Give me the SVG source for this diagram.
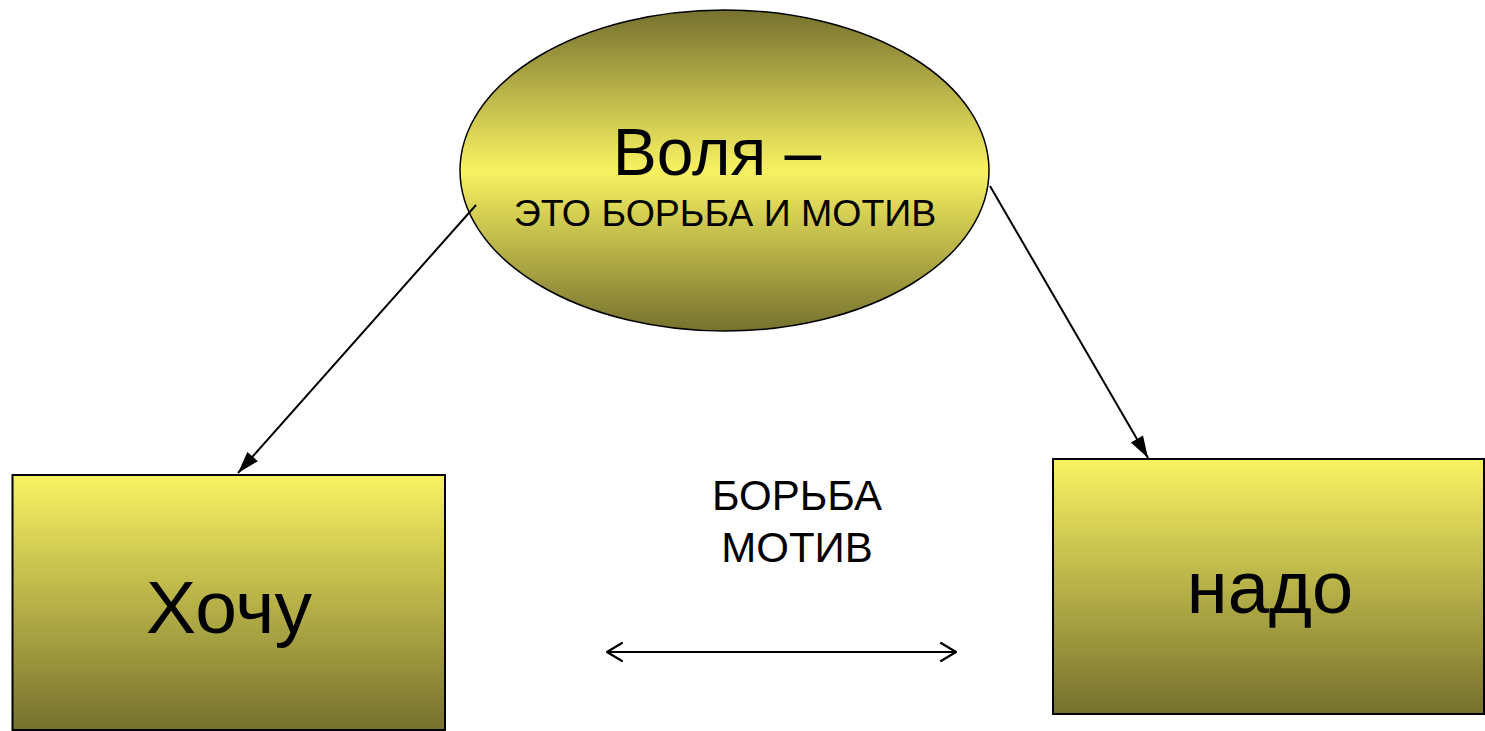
<svg xmlns="http://www.w3.org/2000/svg" width="1485" height="731" viewBox="0 0 1485 731">
<defs>
<linearGradient id="gEll" x1="0" y1="0" x2="0" y2="1">
<stop offset="0" stop-color="#76712e"/>
<stop offset="0.5" stop-color="#f8f262"/>
<stop offset="1" stop-color="#76712e"/>
</linearGradient>
<linearGradient id="gRect" x1="0" y1="0" x2="0" y2="1">
<stop offset="0" stop-color="#f8f262"/>
<stop offset="1" stop-color="#76712e"/>
</linearGradient>
<marker id="fill" viewBox="0 0 10 10" refX="10" refY="5" markerWidth="10" markerHeight="10" markerUnits="userSpaceOnUse" orient="auto" overflow="visible">
<path d="M-12,-2 L10,5 L-12,12 Z" fill="#000"/>
</marker>
<marker id="open" viewBox="0 0 20 20" refX="18" refY="10" markerWidth="20" markerHeight="20" markerUnits="userSpaceOnUse" orient="auto-start-reverse">
<path d="M3,1 L18,10 L3,19" fill="none" stroke="#000" stroke-width="2.2" stroke-linecap="round" stroke-linejoin="round"/>
</marker>
<style>
text{font-family:"Liberation Sans",Arial,sans-serif;fill:#000;text-anchor:middle}
.node{stroke:#000;stroke-width:2}
</style>
</defs>
<rect width="1485" height="731" fill="#fff"/>
<g id="volya">
<ellipse cx="724.5" cy="170.5" rx="264.5" ry="160.5" fill="url(#gEll)" stroke="#000" stroke-width="1.5"/>
<text x="717" y="175" font-size="66">Воля –</text>
<text x="725" y="226" font-size="37.5">ЭТО БОРЬБА И МОТИВ</text>
</g>
<g id="hochu">
<rect class="node" x="12.5" y="475" width="432.5" height="255" fill="url(#gRect)"/>
<text x="229" y="633" font-size="75">Хочу</text>
</g>
<g id="nado">
<rect class="node" x="1053" y="459" width="431" height="255" fill="url(#gRect)"/>
<text x="1270" y="613" font-size="74">надо</text>
</g>
<g id="label">
<text x="797" y="510" font-size="42">БОРЬБА</text>
<text x="797" y="562" font-size="42">МОТИВ</text>
</g>
<g id="connectors" stroke="#000" stroke-width="2" fill="none">
<line x1="476" y1="205" x2="238" y2="473" marker-end="url(#fill)"/>
<line x1="990" y1="186" x2="1148" y2="458" marker-end="url(#fill)"/>
<line x1="607" y1="652" x2="956" y2="652" marker-start="url(#open)" marker-end="url(#open)"/>
</g>
</svg>
